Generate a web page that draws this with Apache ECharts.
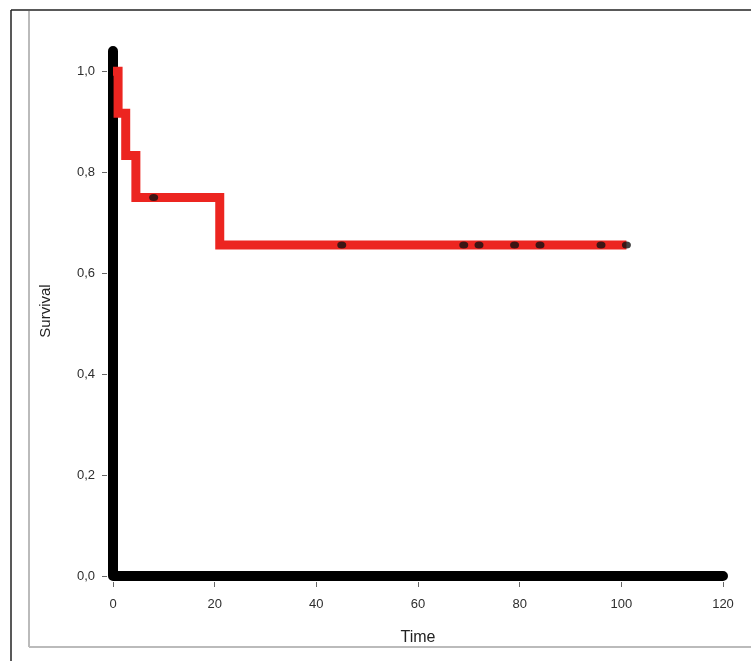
<!DOCTYPE html>
<html>
<head>
<meta charset="utf-8">
<style>html,body{margin:0;padding:0;background:#fff;}#c{width:751px;height:661px;}</style>
<script src="https://cdn.jsdelivr.net/npm/echarts@6/dist/echarts.min.js"></script>
</head>
<body>
<div id="c"></div>
<script>
// Group with immediate drop (black curve)
const blackTimes = [0, 0, 120];
const blackSurv = [1.04, 0, 0];
// Kaplan-Meier red curve: event times and survival after each event
const redTimes = [0, 1, 2.5, 4.5, 21, 101];
const redSurv = [1.0, 0.917, 0.833, 0.75, 0.656, 0.656];
// Censored observations
const censorTimes = [8, 45, 69, 72, 79, 84, 96, 101];
const censorSurv = [0.75, 0.656, 0.656, 0.656, 0.656, 0.656, 0.656, 0.656];
// Axis ticks
const xTicks = [0, 20, 40, 60, 80, 100, 120];
const yTicks = [0, 0.2, 0.4, 0.6, 0.8, 1.0];

const zip = (a, b) => a.map((v, i) => [v, b[i]]);
const chart = echarts.init(document.getElementById('c'));
const labelStyle = {color: '#2e2e2e', fontSize: 13, fontFamily: 'Liberation Sans, Arial, sans-serif'};
const hiddenLine = {show: true, onZero: false, lineStyle: {color: 'rgba(0,0,0,0)', width: 1}};
chart.setOption({
  backgroundColor: '#fff',
  animation: false,
  graphic: [
    {type: 'line', shape: {x1: 11, y1: 10, x2: 11, y2: 661}, style: {stroke: '#222', lineWidth: 1.5}},
    {type: 'line', shape: {x1: 11, y1: 10, x2: 751, y2: 10}, style: {stroke: '#222', lineWidth: 1.5}},
    {type: 'line', shape: {x1: 29, y1: 11, x2: 29, y2: 647}, style: {stroke: '#bbb', lineWidth: 2}},
    {type: 'line', shape: {x1: 29, y1: 647, x2: 751, y2: 647}, style: {stroke: '#bbb', lineWidth: 2}}
  ],
  grid: {left: 113, right: 28, top: 46, bottom: 85, containLabel: false},
  xAxis: {
    type: 'value', min: 0, max: 120, interval: 20,
    offset: 6,
    name: 'Time', nameLocation: 'middle', nameGap: 48,
    nameTextStyle: {color: '#222', fontSize: 16, fontFamily: 'Liberation Sans, Arial, sans-serif'},
    axisLine: hiddenLine,
    axisTick: {show: true, inside: false, length: 5, lineStyle: {color: '#666', width: 1}},
    axisLabel: Object.assign({margin: 16}, labelStyle),
    splitLine: {show: false}
  },
  yAxis: {
    type: 'value', min: 0, max: 1.05,
    offset: 6,
    name: 'Survival', nameLocation: 'middle', nameGap: 54,
    nameTextStyle: {color: '#222', fontSize: 15, fontFamily: 'Liberation Sans, Arial, sans-serif'},
    axisLine: hiddenLine,
    axisTick: {show: true, inside: false, length: 5, lineStyle: {color: '#666', width: 1}, customValues: yTicks},
    axisLabel: Object.assign({margin: 12, customValues: yTicks,
      formatter: v => v.toFixed(1).replace('.', ',')}, labelStyle),
    splitLine: {show: false}
  },
  series: [
    {
      type: 'line', data: zip(blackTimes, blackSurv), symbol: 'none', clip: false,
      lineStyle: {color: '#000', width: 10, cap: 'round', join: 'round'}, z: 2
    },
    {
      type: 'line', step: 'end', data: zip(redTimes, redSurv), symbol: 'none', clip: false,
      lineStyle: {color: '#ec2520', width: 9, cap: 'butt', join: 'miter'}, z: 3
    },
    {
      type: 'scatter', data: zip(censorTimes, censorSurv), symbol: 'circle', symbolSize: [9, 7],
      itemStyle: {color: '#111'}, z: 4
    }
  ]
});
</script>
</body>
</html>
